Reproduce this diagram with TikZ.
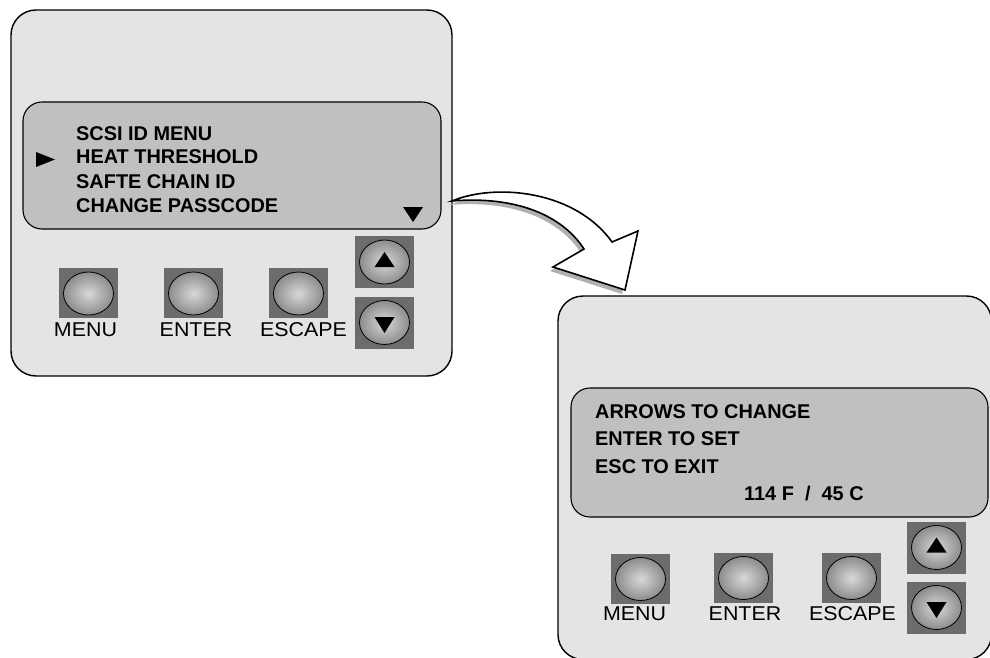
\documentclass[tikz,border=0pt]{standalone}
\usepackage{fontspec}
\setmainfont{Liberation Sans}
\newfontfamily\lblfont[FakeStretch=1.07]{Liberation Sans}
\usetikzlibrary{shapes.geometric}
\definecolor{panelgray}{HTML}{E4E4E4}
\definecolor{screengray}{HTML}{C0C0C0}
\definecolor{keygray}{HTML}{6C6C6C}
\definecolor{shadowgray}{HTML}{B0B0B0}
\definecolor{keylight}{HTML}{D8D8D8}
\definecolor{keydark}{HTML}{8C8C8C}
\tikzset{
  panel/.style={draw=black, line width=1.4pt, fill=panelgray, rounded corners=25pt},
  screen/.style={draw=black, line width=1.1pt, fill=screengray, rounded corners=19pt},
  keysq/.style={fill=keygray, draw=none, inner sep=0pt, minimum width=59pt, minimum height=50pt},
  arrsq/.style={fill=keygray, draw=none, inner sep=0pt, minimum width=59pt, minimum height=52pt},
  keyell/.style={ellipse, draw=black, line width=0.8pt, inner sep=0pt,
    minimum width=50pt, minimum height=43pt, inner color=keylight, outer color=keydark},
  scrtext/.style={font=\fontsize{19.9}{24}\selectfont\bfseries, anchor=base west, inner sep=0pt},
  lbl/.style={font=\lblfont\fontsize{20}{24}\selectfont, anchor=base, inner sep=0pt},
  tri/.style={fill=black},
  arrowshape/.style={insert path={(452,201) .. controls (495,183) and (575,190) .. (612,242)
     -- (638,231) -- (625,290) -- (553,267) -- (584,249)
     .. controls (560,212) and (510,196) .. (452,201) -- cycle}}
}
\newcommand\keybtn[3]{%
  \node[keysq] (#1sq) at (#2,#3) {};
  \node[keyell] (#1) at (#2,#3+0.5) {};}
\newcommand\upkey[3]{%
  \node[arrsq] (#1sq) at (#2,#3) {};
  \node[keyell, minimum height=44pt] (#1) at (#2,#3) {};
  \fill[tri] (#2-10,#3+5) -- (#2+10,#3+5) -- (#2,#3-10) -- cycle;}
\newcommand\downkey[3]{%
  \node[arrsq] (#1sq) at (#2,#3) {};
  \node[keyell, minimum height=44pt] (#1) at (#2,#3) {};
  \fill[tri] (#2-10,#3-5.5) -- (#2+10,#3-5.5) -- (#2,#3+10.5) -- cycle;}
\begin{document}
\begin{tikzpicture}[x=1pt,y=-1pt]
\useasboundingbox (0,0) rectangle (990,658);
% left panel
\draw[panel] (11,10) rectangle (452,376);
\draw[screen] (23,102) rectangle (441,229);
\node[scrtext] (l1) at (76,140) {SCSI ID MENU};
\node[scrtext] (l2) at (76,164) {HEAT THRESHOLD};
\node[scrtext] (l3) at (76,188) {SAFTE CHAIN ID};
\node[scrtext] (l4) at (76,212) {CHANGE PASSCODE};
\fill[tri] (36,152) -- (36,167) -- (55,159.5) -- cycle;
\fill[tri] (403,207) -- (423,207) -- (413,222) -- cycle;
\keybtn{menuL}{88.5}{293}
\keybtn{enterL}{193.5}{293}
\keybtn{escL}{298.5}{293}
\upkey{upL}{384.5}{262}
\downkey{downL}{384.5}{322.5}
\node[lbl] (menuLt) at (85.5,336) {MENU};
\node[lbl] (enterLt) at (196,336) {ENTER};
\node[lbl] (escLt) at (303.5,336) {ESCAPE};
% right panel
\draw[panel] (558,296) rectangle (991.5,659.5);
\draw[screen] (571,388) rectangle (988,517);
\node[scrtext] (r1) at (595,418) {ARROWS TO CHANGE};
\node[scrtext] (r2) at (595,445) {ENTER TO SET};
\node[scrtext] (r3) at (595,473) {ESC TO EXIT};
\node[scrtext] (r4) at (744,500) {114 F\ \ /\ \ 45 C};
\keybtn{menuR}{640.5}{578.5}
\keybtn{enterR}{743.5}{577.5}
\keybtn{escR}{851.5}{577.5}
\upkey{upR}{936.5}{547.5}
\downkey{downR}{936.5}{607.5}
\node[lbl] (menuRt) at (634.5,620.5) {MENU};
\node[lbl] (enterRt) at (745,620.5) {ENTER};
\node[lbl] (escRt) at (852.5,620.5) {ESCAPE};
% curved block arrow
\fill[shadowgray, shift={(-3,4)}, arrowshape];
\filldraw[fill=white, draw=black, line width=1.6pt, line join=miter, arrowshape];
\end{tikzpicture}
\end{document}
